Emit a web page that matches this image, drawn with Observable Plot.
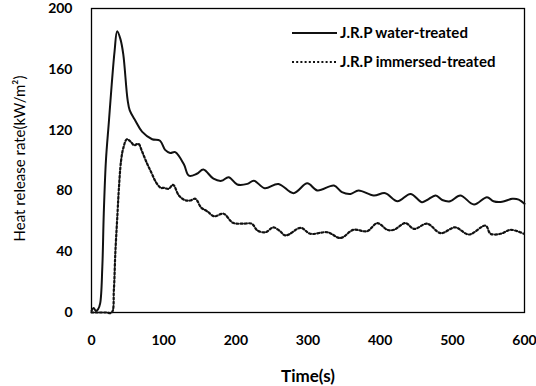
<!DOCTYPE html>
<html>
<head>
<meta charset="utf-8">
<script src="https://cdn.jsdelivr.net/npm/d3@7"></script>
<script src="https://cdn.jsdelivr.net/npm/@observablehq/plot@0.6"></script>
<style>
  html, body { margin: 0; padding: 0; background: #fff; }
  #wrap { position: relative; width: 536px; height: 386px; font-family: Lato, "Open Sans", sans-serif; }
  #legend { position: absolute; left: 0; top: 0; pointer-events: none; }
</style>
</head>
<body>
<div id="wrap"></div>
<script>
// ---- data ----
const seriesNames = ["J.R.P water-treated", "J.R.P immersed-treated"];
const waterT = [0,3,6,9,12,15,17,20,24,28,32,35.6,40,44,50,53,61,70,84,95,102,109,116,128,135,146,155,169,180,190,202,216,225,240,259,280,299,313,336,347,359,370,391,407,424,442,458,465,477,486,497,511,530,548,557,569,583,592,600];
const waterY = [1,3,1,2,6,30,65,100,125,150,172,185,180,170,140,133,126,119,114,113,107,105,105.5,97.5,90,91.3,94,88,86.6,89,84.2,84.6,86.7,81.8,84.6,78.5,85,80.3,83.5,79.2,78,80.3,77,78.5,73.2,78,72.6,74,77,74,73.2,77,71,75.9,73.2,72.8,74.8,74.3,71.5];
const immT = [0,10,20,28,31,33,36,38,41,44,49,55,59,65,70,77,83,89,96,100,107,113,121,129,137,144,152,160,170,183,196,210,222,230,241,252,260,269,290,303,327,345,363,382,396,410,419,435,447,465,484,504,523,546,553,567,581,599];
const immY = [0,0,0,0,15,39,65,82,100,108,114,112,110,111,106,98,92,86,82,82,81.4,84,77,74,73.7,74.8,69,66.7,63.3,65,59,58.4,58.4,53.9,52.8,56,54,50.7,55.7,51.8,52.8,49,54.4,53.5,58.8,54.4,54.4,58.8,55,58.4,52.2,56,51.3,57.2,51.8,51.8,54.4,51.8];
const xTicks = [0,100,200,300,400,500,600];
const yTicks = [0,40,80,120,160,200];
const xLabel = "Time(s)";
const yLabel = "Heat release rate(kW/m\u00B2)";

const water = waterT.map((t, i) => ({t, v: waterY[i]}));
const imm = immT.map((t, i) => ({t, v: immY[i]}));

const chart = Plot.plot({
  width: 536,
  height: 386,
  marginLeft: 91,
  marginRight: 12,
  marginTop: 8,
  marginBottom: 74,
  style: {fontFamily: "Lato, 'Open Sans', sans-serif", fontSize: "14px", color: "#000", background: "#fff", overflow: "visible"},
  x: {domain: [0, 600]},
  y: {domain: [0, 200]},
  marks: [
    Plot.frame({stroke: "#000", strokeWidth: 1.3}),
    Plot.axisX({ticks: xTicks, tickSize: 0, tickPadding: 23, fontWeight: "bold", fontSize: 14, label: null}),
    Plot.axisY({ticks: yTicks, tickSize: 0, tickPadding: 19, fontWeight: "bold", fontSize: 14, label: null}),
    Plot.line(imm, {x: "t", y: "v", stroke: "#111", strokeWidth: 2.2, strokeDasharray: "2,2.2", curve: "catmull-rom"}),
    Plot.line(water, {x: "t", y: "v", stroke: "#111", strokeWidth: 2, curve: "catmull-rom"}),
    Plot.text([xLabel], {frameAnchor: "bottom", dy: 64, lineAnchor: "middle", textAnchor: "middle", fontWeight: "bold", fontSize: 17, fill: "#000"}),
    Plot.text([yLabel], {frameAnchor: "left", dx: -71, dy: -2, rotate: -90, lineAnchor: "middle", textAnchor: "middle", fontSize: 15, fill: "#000"})
  ]
});
const wrap = document.getElementById("wrap");
wrap.appendChild(chart);

// legend overlay
const ns = "http://www.w3.org/2000/svg";
const leg = document.createElementNS(ns, "svg");
leg.setAttribute("id", "legend");
leg.setAttribute("width", 536);
leg.setAttribute("height", 386);
const rows = [{y: 33, dash: null}, {y: 62, dash: "2,2.2"}];
rows.forEach((r, i) => {
  const ln = document.createElementNS(ns, "line");
  ln.setAttribute("x1", 292); ln.setAttribute("x2", 337);
  ln.setAttribute("y1", r.y); ln.setAttribute("y2", r.y);
  ln.setAttribute("stroke", "#111"); ln.setAttribute("stroke-width", r.dash ? 2.2 : 2);
  if (r.dash) ln.setAttribute("stroke-dasharray", r.dash);
  leg.appendChild(ln);
  const tx = document.createElementNS(ns, "text");
  tx.setAttribute("x", 340); tx.setAttribute("y", r.y);
  tx.setAttribute("dy", "0.35em");
  tx.setAttribute("font-family", "Lato, 'Open Sans', sans-serif");
  tx.setAttribute("font-size", 15);
  tx.setAttribute("font-weight", "bold");
  tx.textContent = seriesNames[i];
  leg.appendChild(tx);
});
wrap.appendChild(leg);
</script>
</body>
</html>
